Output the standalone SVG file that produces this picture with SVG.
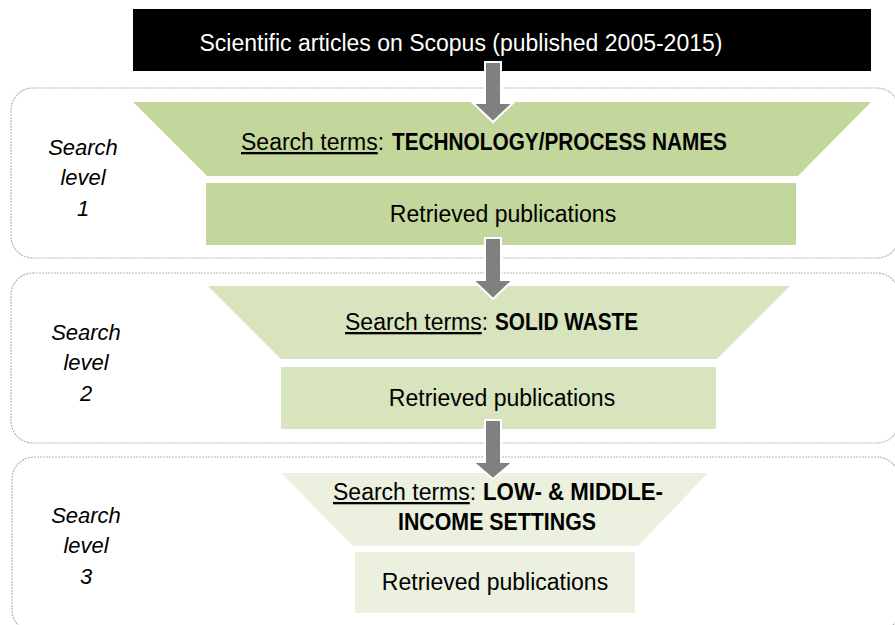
<svg xmlns="http://www.w3.org/2000/svg" width="895" height="625" viewBox="0 0 895 625">
<style>
.box{fill:none;stroke:#b4b4b4;stroke-width:1.2;stroke-dasharray:2 1}
.t{font-family:"Liberation Sans",Arial,sans-serif;font-size:23px;fill:#000;text-anchor:middle}
.s{font-family:"Liberation Sans",Arial,sans-serif;font-size:23px;fill:#000;text-anchor:start}
.b{font-weight:bold}
.u{text-decoration:underline}
.lab{font-family:"Liberation Sans",Arial,sans-serif;font-size:22px;font-style:italic;fill:#000;text-anchor:middle}
.g1{fill:#c3d69b}
.g2{fill:#d7e4bd}
.g3{fill:#ebf1de}
.arr{fill:#808080;stroke:#fff;stroke-width:2;stroke-linejoin:miter}
</style>
<rect width="895" height="625" fill="#fff"/>
<g id="level1">
<rect class="box" x="11" y="88" width="888" height="170" rx="22"/>
<text class="lab" x="83" y="155">Search</text>
<text class="lab" x="83" y="185">level</text>
<text class="lab" x="83" y="216">1</text>
</g>
<g id="level2">
<rect class="box" x="11" y="273" width="888" height="170" rx="22"/>
<text class="lab" x="86" y="340">Search</text>
<text class="lab" x="86" y="370">level</text>
<text class="lab" x="86" y="401">2</text>
</g>
<g id="level3">
<rect class="box" x="12" y="457" width="887" height="175" rx="22"/>
<text class="lab" x="86" y="523">Search</text>
<text class="lab" x="86" y="553">level</text>
<text class="lab" x="86" y="584">3</text>
</g>
<g id="source">
<rect x="133" y="9" width="738" height="62" fill="#000"/>
<text class="t" x="461" y="51" style="fill:#fff">Scientific articles on Scopus (published 2005-2015)</text>
</g>
<g id="search1">
<polygon class="g1" points="133,102 871,102 798,176 207,176"/>
<text class="s" x="241" y="150"><tspan class="u">Search terms</tspan>:</text>
<text class="s b" x="392" y="150" textLength="335" lengthAdjust="spacingAndGlyphs">TECHNOLOGY/PROCESS NAMES</text>
</g>
<g id="result1">
<rect class="g1" x="206" y="183" width="590" height="62"/>
<text class="t" x="503" y="222">Retrieved publications</text>
</g>
<g id="search2">
<polygon class="g2" points="208,286 790,286 717,359 281,359"/>
<text class="s" x="345" y="330"><tspan class="u">Search terms</tspan>:</text>
<text class="s b" x="495" y="330" textLength="143" lengthAdjust="spacingAndGlyphs">SOLID WASTE</text>
</g>
<g id="result2">
<rect class="g2" x="281" y="367" width="435" height="62"/>
<text class="t" x="502" y="406">Retrieved publications</text>
</g>
<g id="search3">
<polygon class="g3" points="281,473 708,473 638,546 353,546"/>
<text class="s" x="333" y="500"><tspan class="u">Search terms</tspan>:</text>
<text class="s b" x="483" y="500" textLength="180" lengthAdjust="spacingAndGlyphs">LOW- &amp; MIDDLE-</text>
<text class="s b" x="398" y="530" textLength="198" lengthAdjust="spacingAndGlyphs">INCOME SETTINGS</text>
</g>
<g id="result3">
<rect class="g3" x="355" y="552" width="280" height="61"/>
<text class="t" x="495" y="590">Retrieved publications</text>
</g>
<g id="connectors">
<polygon class="arr" points="485,62 501,62 501,103 513,103 493,122 473,103 485,103"/>
<polygon class="arr" points="485,238 501,238 501,280 513,280 493,299 473,280 485,280"/>
<polygon class="arr" points="485,420 501,420 501,462 513,462 493,479 473,462 485,462"/>
</g>
</svg>
